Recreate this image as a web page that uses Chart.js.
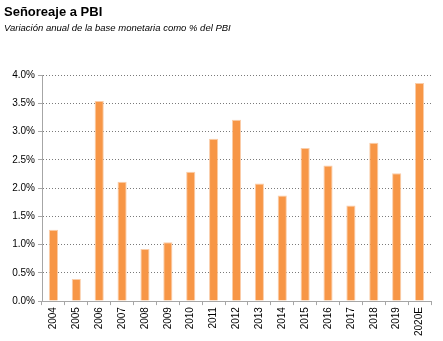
<!DOCTYPE html>
<html>
<head>
<meta charset="utf-8">
<script src="https://cdn.jsdelivr.net/npm/chart.js@4"></script>
<style>
  html, body { margin: 0; padding: 0; background: #fff; }
  #wrap { width: 443px; height: 341px; }
</style>
</head>
<body>
<div id="wrap"><canvas id="seniorageChart"></canvas></div>
<script>
// Años y señoreaje (% del PBI)
const years = ['2004', '2005', '2006', '2007', '2008', '2009', '2010', '2011', '2012',
  '2013', '2014', '2015', '2016', '2017', '2018', '2019', '2020E'];
const seniorage = [1.26, 0.39, 3.54, 2.11, 0.92, 1.04, 2.29, 2.87, 3.21,
  2.08, 1.87, 2.71, 2.40, 1.69, 2.80, 2.26, 3.86];
const yTicks = [0, 0.5, 1, 1.5, 2, 2.5, 3, 3.5, 4];

const axisGray = '#a6a6a6';
const fontFamily = '"Liberation Sans", Arial, sans-serif';

const data = {
  labels: years,
  datasets: [{
    data: seniorage,
    backgroundColor: '#f79646',
    borderColor: 'rgba(250, 200, 160, 0.9)',
    borderWidth: 1,
    barPercentage: 0.4,
    categoryPercentage: 1
  }]
};

const config = {
  type: 'bar',
  data: data,
  options: {
    responsive: true,
    maintainAspectRatio: false,
    animation: false,
    layout: { padding: { left: 4, right: 12, top: 3, bottom: 3 } },
    plugins: {
      legend: { display: false },
      tooltip: { enabled: false },
      title: {
        display: true,
        text: 'Señoreaje a PBI',
        align: 'start',
        color: '#000',
        font: { family: fontFamily, size: 13, weight: 'bold' },
        padding: { top: 2, bottom: 2 }
      },
      subtitle: {
        display: true,
        text: 'Variación anual de la base monetaria como % del PBI',
        align: 'start',
        color: '#000',
        font: { family: fontFamily, size: 9.5, style: 'italic' },
        padding: { bottom: 41 }
      }
    },
    scales: {
      x: {
        grid: {
          offset: true,
          drawOnChartArea: false,
          drawTicks: true,
          tickLength: 4,
          color: axisGray
        },
        border: { color: axisGray, width: 1 },
        ticks: {
          minRotation: 90,
          maxRotation: 90,
          color: '#000',
          font: { family: fontFamily, size: 10 },
          padding: 2
        }
      },
      y: {
        min: 0,
        max: 4,
        afterBuildTicks: (axis) => { axis.ticks = yTicks.map(v => ({ value: v })); },
        afterFit: (axis) => { axis.width = 38; },
        grid: {
          color: '#7a7a7a',
          drawTicks: true,
          tickLength: 4,
          tickColor: axisGray,
          tickBorderDash: []
        },
        border: { color: axisGray, width: 1, dash: [1, 2] },
        ticks: {
          color: '#000',
          font: { family: fontFamily, size: 10 },
          padding: 3,
          callback: (v) => v.toFixed(1) + '%'
        }
      }
    }
  }
};

const ctx = document.getElementById('seniorageChart').getContext('2d');
new Chart(ctx, config);
</script>
</body>
</html>
